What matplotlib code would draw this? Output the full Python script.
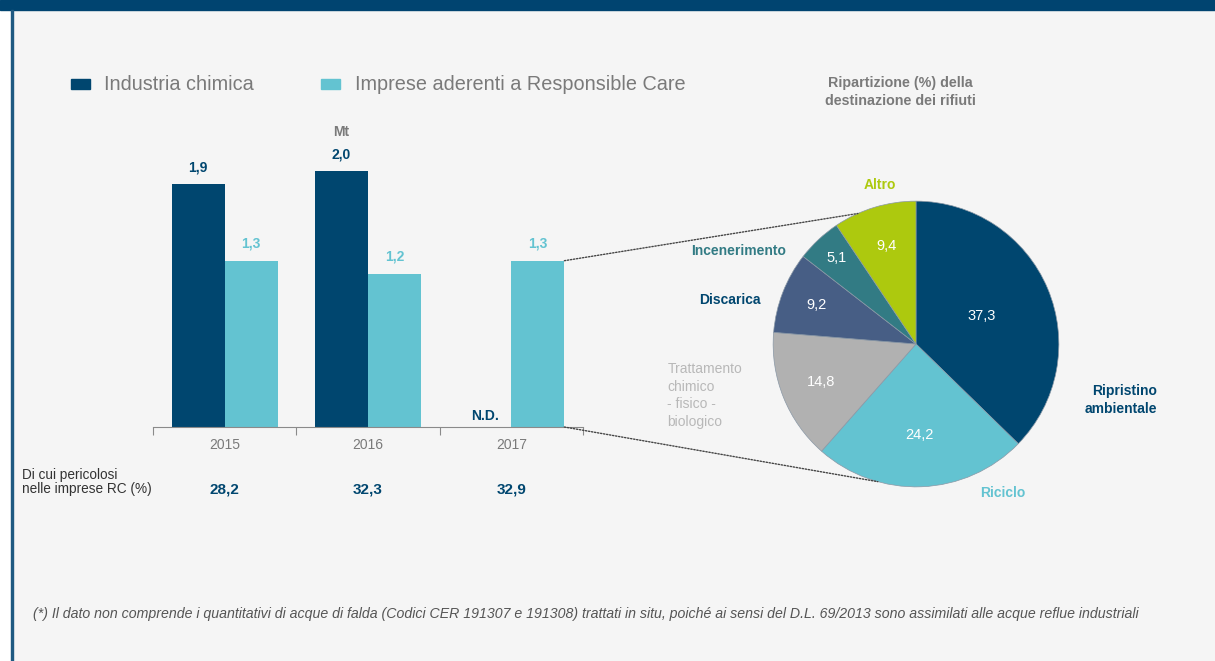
import numpy as np
import matplotlib
matplotlib.use("Agg")
import matplotlib.pyplot as plt
from matplotlib.patches import Rectangle, ConnectionPatch

plt.rcParams['font.family'] = ['Liberation Sans', 'DejaVu Sans']

# data
anni = ['2015', '2016', '2017']
industria = [1.9, 2.0, None]          # 2017 non disponibile
imprese_rc = [1.3, 1.2, 1.3]
pericolosi = [28.2, 32.3, 32.9]

fette = ['Ripristino\nambientale', 'Riciclo', 'Trattamento\nchimico\n- fisico -\nbiologico',
         'Discarica', 'Incenerimento', 'Altro']
quote = [37.3, 24.2, 14.8, 9.2, 5.1, 9.4]

DARK = '#00466f'
LIGHT = '#63c3d1'
GREY = '#7a7a7a'
BG = '#f5f5f5'
colori = [DARK, LIGHT, '#b1b1b1', '#475e85', '#327b84', '#adc90e']
col_etichette = [DARK, LIGHT, '#b8b8b8', DARK, '#327b84', '#adc90e']


def fmt(v):
    return ('%.1f' % v).replace('.', ',')


W, H = 1215, 661
fig = plt.figure(figsize=(W / 100, H / 100), dpi=100)
fig.patch.set_facecolor(BG)

# frame decorations
fig.patches.append(Rectangle((0, 0), 11 / W, 1, transform=fig.transFigure, color='white', zorder=0))
fig.patches.append(Rectangle((0, 1 - 10 / H), 1, 10 / H, transform=fig.transFigure, color='#004470', zorder=1))
fig.patches.append(Rectangle((11 / W, 0), 2 / W, 1 - 10 / H, transform=fig.transFigure, color='#1f5a82', zorder=1))

# ---- bar chart ----
ax = fig.add_axes([153 / W, (H - 427) / H, 430 / W, 307 / H])
ax.set_facecolor(BG)
x = np.arange(len(anni))
w = 0.37
for i in range(len(anni)):
    if industria[i] is not None:
        ax.bar(x[i] - w / 2, industria[i], w, color=DARK)
        ax.annotate(fmt(industria[i]), (x[i] - w / 2, industria[i]), xytext=(0, 7),
                    textcoords='offset points', ha='center', va='bottom',
                    color=DARK, fontsize=10, fontweight='bold')
    else:
        ax.annotate('N.D.', (x[i] - w / 2, 0), xytext=(0, 3), textcoords='offset points',
                    ha='center', va='bottom', color=DARK, fontsize=10, fontweight='bold')
    ax.bar(x[i] + w / 2, imprese_rc[i], w, color=LIGHT)
    ax.annotate(fmt(imprese_rc[i]), (x[i] + w / 2, imprese_rc[i]), xytext=(0, 7),
                textcoords='offset points', ha='center', va='bottom',
                color=LIGHT, fontsize=10, fontweight='bold')

ax.annotate('Mt', (x[1] - w / 2, industria[1]), xytext=(0, 23), textcoords='offset points',
            ha='center', va='bottom', color=GREY, fontsize=10, fontweight='bold')

ax.set_xlim(-0.5, 2.5)
ax.set_ylim(0, 2.4)
for s in ['top', 'right', 'left']:
    ax.spines[s].set_visible(False)
ax.spines['bottom'].set_color('#8a8a8a')
ax.set_yticks([])
ax.set_xticks(np.arange(-0.5, 2.6, 1.0))
ax.set_xticklabels([])
ax.tick_params(axis='x', which='major', length=6, color='#8a8a8a', direction='out')
ax.set_xticks(x, minor=True)
ax.set_xticklabels(anni, minor=True)
ax.tick_params(axis='x', which='minor', length=0, pad=8, labelsize=10, labelcolor=GREY)

# pericolosi row
for i, v in enumerate(pericolosi):
    ax.annotate(fmt(v), (x[i], 0), xytext=(0, -45), textcoords='offset points',
                ha='center', va='center', color=DARK, fontsize=11, fontweight='bold')
fig.text(22 / W, 1 - 482 / H, 'Di cui pericolosi\nnelle imprese RC (%)', ha='left', va='center',
         fontsize=9.8, color='#333333', linespacing=1.05)

# legend
fig.patches.append(Rectangle((71 / W, 1 - 89 / H), 19 / W, 10 / H, transform=fig.transFigure, color=DARK))
fig.text(104 / W, 1 - 84 / H, 'Industria chimica', ha='left', va='center', fontsize=14.3, color=GREY)
fig.patches.append(Rectangle((321 / W, 1 - 89 / H), 19 / W, 10 / H, transform=fig.transFigure, color=LIGHT))
fig.text(355 / W, 1 - 84 / H, 'Imprese aderenti a Responsible Care', ha='left', va='center',
         fontsize=14.3, color=GREY)

# ---- pie chart ----
cx, cy, half = 916, 344, 150
pax = fig.add_axes([(cx - half) / W, (H - cy - half) / H, 2 * half / W, 2 * half / H])
wedges, _ = pax.pie(quote, colors=colori, startangle=90, counterclock=False, radius=1,
                    wedgeprops=dict(linewidth=0.5, edgecolor='#8a98a6'))
pax.set_xlim(-1.05, 1.05)
pax.set_ylim(-1.05, 1.05)
pax.set_aspect('equal')
pax.axis('off')

dist = [0.50, 0.64, 0.72, 0.75, 0.82, 0.72]
for wd, q, d in zip(wedges, quote, dist):
    ang = np.deg2rad((wd.theta1 + wd.theta2) / 2)
    pax.text(d * np.cos(ang), d * np.sin(ang), fmt(q), ha='center', va='center',
             color='white', fontsize=10.5)

label_pos = [(1.69, -0.39, 'right'), (0.61, -1.04, 'center'), (-1.74, -0.36, 'left'),
             (-1.09, 0.31, 'right'), (-0.91, 0.65, 'right'), (-0.25, 1.11, 'center')]
weights = ['bold', 'bold', 'normal', 'bold', 'bold', 'bold']
for lab, (lx, ly, ha), c, fw in zip(fette, label_pos, col_etichette, weights):
    pax.text(lx, ly, lab, ha=ha, va='center', color=c, fontsize=10, fontweight=fw,
             linespacing=1.35, clip_on=False)

fig.text(900 / W, 1 - 92 / H, 'Ripartizione (%) della\ndestinazione dei rifiuti', ha='center',
         va='center', fontsize=10.3, fontweight='bold', color=GREY, linespacing=1.35)

# connectors from 2017 bar to pie
for (ya, ang) in [(imprese_rc[2], 114), (0, 254.5)]:
    t = np.deg2rad(ang)
    con = ConnectionPatch(xyA=(x[2] + w, ya), coordsA=ax.transData,
                          xyB=(np.cos(t), np.sin(t)), coordsB=pax.transData,
                          linestyle=(0, (1, 1.2)), linewidth=1.0, color='#444444')
    fig.add_artist(con)

fig.text(33 / W, 1 - 614 / H,
         '(*) Il dato non comprende i quantitativi di acque di falda (Codici CER 191307 e 191308) '
         'trattati in situ, poiché ai sensi del D.L. 69/2013 sono assimilati alle acque reflue industriali',
         ha='left', va='center', fontsize=10.2, style='italic', color='#555555')

fig.savefig('out.png', dpi=100, facecolor=fig.get_facecolor())
